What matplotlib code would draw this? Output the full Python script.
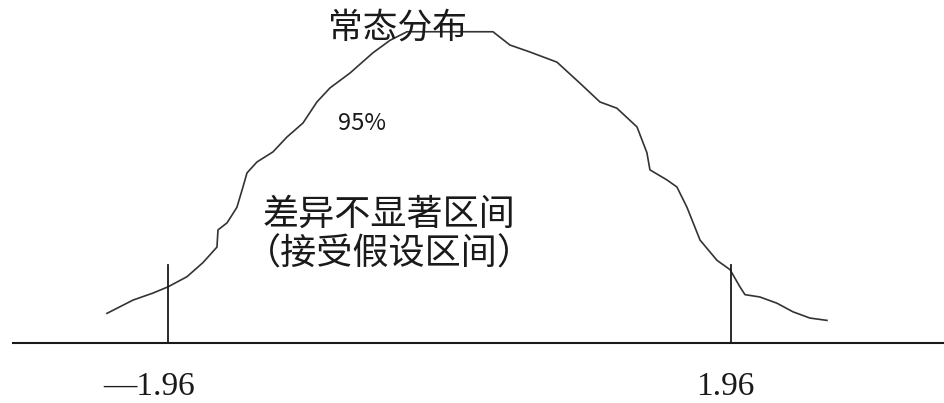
import matplotlib
matplotlib.use("Agg")
from matplotlib import pyplot as plt

# hand-traced bell curve (z score, height)
curve_z = [-2.385, -2.204, -2.065, -1.96, -1.828, -1.717, -1.619, -1.612, -1.549, -1.480,
           -1.438, -1.410, -1.341, -1.229, -1.132, -1.020, -0.923, -0.832, -0.693, -0.533,
           -0.414, -0.296, -0.136, 0.303, 0.421, 0.561, 0.749, 0.909, 1.048, 1.166,
           1.306, 1.375, 1.396, 1.515, 1.584, 1.654, 1.745, 1.863, 1.954, 2.023,
           2.058, 2.162, 2.281, 2.392, 2.510, 2.629]
curve_h = [0.038, 0.055, 0.064, 0.072, 0.085, 0.103, 0.123, 0.145, 0.154, 0.174,
           0.200, 0.218, 0.232, 0.245, 0.264, 0.282, 0.309, 0.327, 0.346, 0.372,
           0.388, 0.399, 0.399, 0.399, 0.382, 0.373, 0.360, 0.333, 0.309, 0.301,
           0.277, 0.244, 0.222, 0.209, 0.200, 0.174, 0.132, 0.106, 0.094, 0.072,
           0.062, 0.059, 0.051, 0.040, 0.032, 0.029]

crit = [-1.96, 1.96]
crit_labels = ["\u20141.96", "1.96"]
crit_top = 0.1

title = "常态分布"
pct = "95%"
region = ["差异不显著区间", "（接受假设区间）"]

cjk = ["Noto Sans CJK SC", "DejaVu Sans"]
ink = "#1a1a1a"

fig = plt.figure(figsize=(9.44, 4.03), dpi=100)
ax = fig.add_axes([0, 0, 1, 1])
ax.set_xlim(-3.130, 3.444)
ax.set_ylim(-0.0769, 0.4397)
ax.axis("off")

# baseline
ax.plot([-3.046, 3.444], [0, 0], color=ink, lw=1.5, solid_capstyle="butt")
# curve
ax.plot(curve_z, curve_h, color="#333333", lw=1.2)
# critical values
for z, lab in zip(crit, crit_labels):
    ax.plot([z, z], [0, crit_top], color=ink, lw=1.3)
ax.text(-2.09, -0.056, crit_labels[0], family="Liberation Serif", fontsize=24,
        ha="center", va="center", color=ink)
ax.text(1.919, -0.056, crit_labels[1], family="Liberation Serif", fontsize=24,
        ha="center", va="center", color=ink)

ax.text(-0.359, 0.404, title, family=cjk, fontsize=25, ha="center", va="center", color=ink)
ax.text(-0.609, 0.281, pct, family=cjk, fontsize=17, ha="center", va="center", color=ink)
ax.text(-0.42, 0.165, region[0], family=cjk, fontsize=26, ha="center", va="center", color=ink)
ax.text(-0.42, 0.113, region[1], family=cjk, fontsize=26, ha="center", va="center", color=ink)

fig.savefig("out.png", dpi=100, facecolor="white")
